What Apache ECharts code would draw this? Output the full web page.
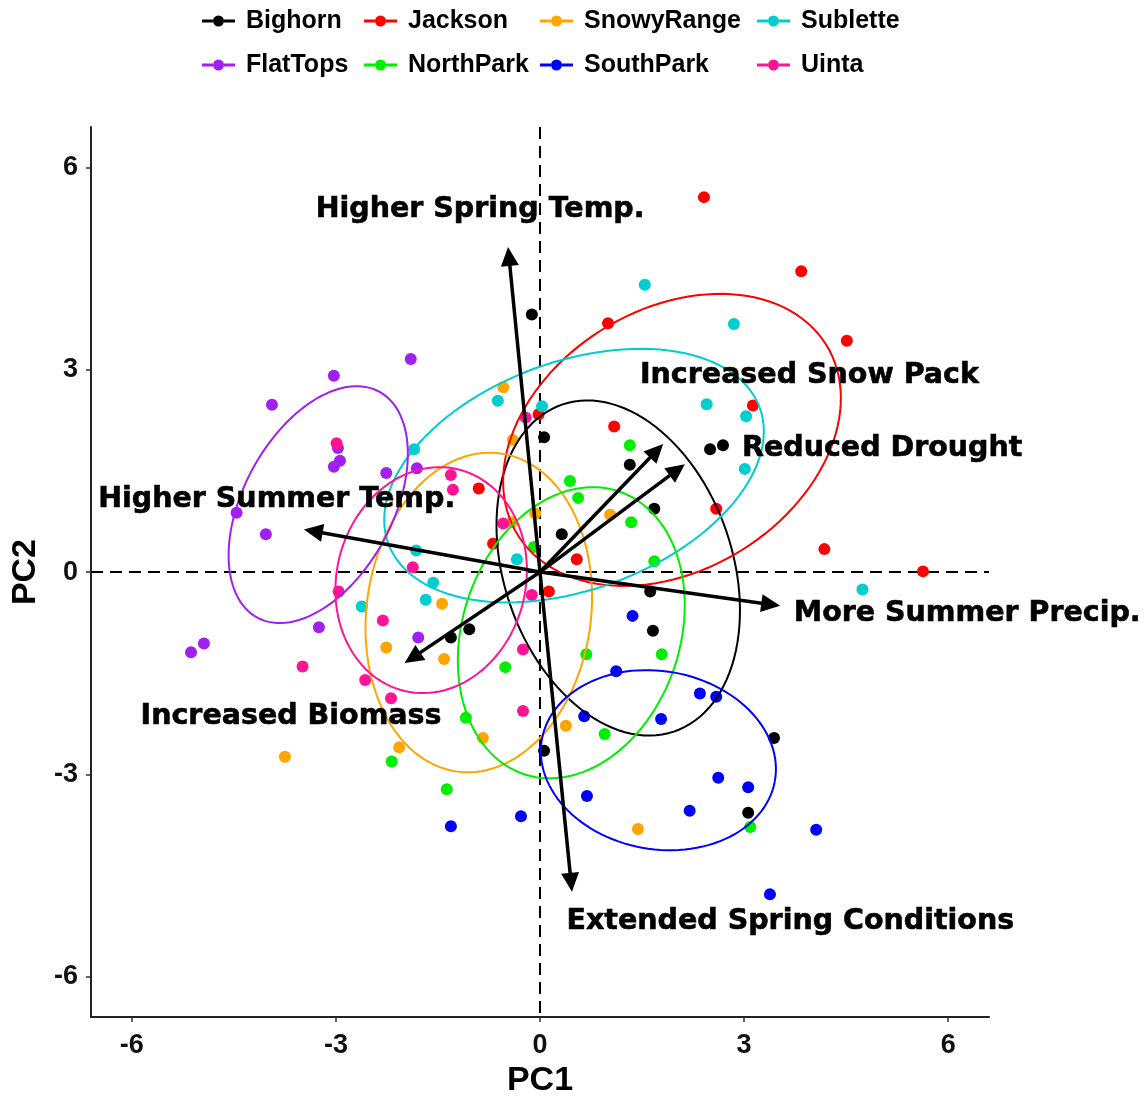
<!DOCTYPE html>
<html><head><meta charset="utf-8">
<script src="https://cdn.jsdelivr.net/npm/echarts@6/dist/echarts.min.js"></script>
<style>html,body{margin:0;padding:0;background:#fff}#c{width:1146px;height:1103px}</style>
</head><body><div id="c"></div>
<script>
// ---- data ----
const groups = ['Bighorn','Jackson','SnowyRange','Sublette','FlatTops','NorthPark','SouthPark','Uinta'];
const groupColors = ['#000000','#FF0000','#FFA500','#00CDCD','#A020F0','#00EE00','#0000FF','#FF1493'];
const tickValues = [-6,-3,0,3,6];

const bighorn = [[-0.12,3.82],[0.06,2.0],[1.32,1.59],[1.68,0.94],[0.32,0.56],[2.5,1.82],[2.69,1.88],[1.62,-0.29],[1.66,-0.87],[-1.04,-0.85],[-1.31,-0.97],[0.06,-2.65],[3.44,-2.46],[3.06,-3.57]];
const jackson = [[2.41,5.56],[3.84,4.46],[4.51,3.43],[3.13,2.47],[1.0,3.69],[-0.02,2.34],[1.09,2.16],[-0.9,1.24],[-0.69,0.42],[0.54,0.19],[0.13,-0.29],[2.59,0.94],[4.18,0.34],[5.63,0.01]];
const snowyRange = [[-0.54,2.74],[-0.4,1.96],[1.03,0.85],[-0.41,0.74],[-0.07,0.87],[-1.44,-0.47],[-2.26,-1.12],[-1.41,-1.29],[0.38,-2.28],[-0.84,-2.46],[-2.07,-2.6],[1.44,-3.81],[-3.75,-2.74]];
const sublette = [[1.54,4.26],[2.85,3.68],[2.45,2.49],[3.03,2.31],[3.01,1.53],[4.74,-0.26],[-0.62,2.54],[0.03,2.46],[-1.85,1.82],[-0.34,0.19],[-1.82,0.32],[-1.57,-0.16],[-1.68,-0.41],[-2.62,-0.51]];
const flatTops = [[-3.03,2.91],[-3.94,2.48],[-2.97,1.84],[-2.94,1.65],[-3.03,1.56],[-2.26,1.47],[-4.46,0.88],[-4.03,0.56],[-1.9,3.16],[-1.81,1.54],[-3.25,-0.82],[-4.94,-1.06],[-5.13,-1.19],[-1.79,-0.97]];
const northPark = [[1.32,1.88],[0.44,1.35],[0.56,1.1],[1.34,0.74],[-0.09,0.37],[1.68,0.16],[0.68,-1.22],[1.79,-1.22],[-0.51,-1.41],[-1.09,-2.16],[0.95,-2.4],[-2.18,-2.81],[-1.37,-3.22],[3.09,-3.78]];
const southPark = [[1.36,-0.65],[1.12,-1.47],[0.65,-2.14],[1.78,-2.18],[0.69,-3.32],[-0.28,-3.62],[-1.31,-3.77],[2.35,-1.8],[2.59,-1.85],[2.62,-3.05],[3.06,-3.19],[2.2,-3.54],[4.06,-3.82],[3.38,-4.78]];
const uinta = [[-2.99,1.91],[-0.21,2.29],[-1.31,1.44],[-1.28,1.22],[-0.54,0.72],[-1.87,0.07],[-0.12,-0.34],[-2.31,-0.72],[-0.25,-1.15],[-2.19,-1.87],[-0.25,-2.06],[-2.96,-0.29],[-3.49,-1.4],[-2.57,-1.6]];

// ellipse parameters (group order)
const ellipseCx = [1.15, 1.94, -0.90, 0.50, -3.26, 0.46, 1.74, -1.60];
const ellipseCy = [0.06, 1.96, -0.60, 1.43, 1.00, -0.90, -2.79, -0.12];
const ellipseA = [2.56, 2.67, 2.38, 2.91, 1.90, 2.21, 1.74, 1.69];
const ellipseB = [1.68, 1.93, 1.65, 1.69, 1.10, 1.60, 1.32, 1.39];
const ellipseAngle = [108.6, 32.2, 82.5, 20.4, 62.1, 72.0, -10.4, 76.7];

// loading arrows (tips) and their labels
const arrowX = [-0.47, 1.81, 2.13, -3.47, 3.53, -1.99, 0.47];
const arrowY = [4.82, 1.90, 1.60, 0.63, -0.50, -1.35, -4.74];
const labelText = ['Higher Spring Temp.','Increased Snow Pack','Reduced Drought','Higher Summer Temp.','More Summer Precip.','Increased Biomass','Extended Spring Conditions'];
const labelX = [-0.88, 3.96, 5.03, -3.87, 6.28, -3.66, 3.68];
const labelY = [5.38, 2.91, 1.83, 1.07, -0.62, -2.14, -5.18];

const axisMin = -6.6, axisMax = 6.6;

// ---- chart ----
const pointSets = [bighorn, jackson, snowyRange, sublette, flatTops, northPark, southPark, uinta];
const chart = echarts.init(document.getElementById('c'));
const series = [];

series.push({
  type: 'custom', name: '_zero', silent: true, z: 1, data: [[0, 0]],
  renderItem: function (p, api) {
    const l = api.coord([axisMin, 0]), r = api.coord([axisMax, 0]);
    const t = api.coord([0, axisMax]), b = api.coord([0, axisMin]);
    const st = { stroke: '#000', lineWidth: 2, lineDash: [12, 7] };
    return { type: 'group', children: [
      { type: 'line', shape: { x1: l[0], y1: l[1], x2: r[0], y2: r[1] }, style: st },
      { type: 'line', shape: { x1: t[0], y1: t[1], x2: b[0], y2: b[1] }, style: st }
    ]};
  }
});

groups.forEach(function (g, i) {
  series.push({
    type: 'scatter', name: g, data: pointSets[i], symbolSize: 12, z: 2,
    itemStyle: { color: groupColors[i], opacity: 1 }
  });
});

const ellipseData = groups.map(function (g, i) {
  return [ellipseCx[i], ellipseCy[i], ellipseA[i], ellipseB[i], ellipseAngle[i], i];
});
series.push({
  type: 'custom', name: '_ellipses', silent: true, z: 3, data: ellipseData,
  renderItem: function (p, api) {
    const cx = api.value(0), cy = api.value(1), a = api.value(2), b = api.value(3);
    const th = api.value(4) * Math.PI / 180, idx = api.value(5);
    const pts = [];
    for (let k = 0; k <= 120; k++) {
      const t = 2 * Math.PI * k / 120;
      const ex = a * Math.cos(t), ey = b * Math.sin(t);
      pts.push(api.coord([cx + ex * Math.cos(th) - ey * Math.sin(th), cy + ex * Math.sin(th) + ey * Math.cos(th)]));
    }
    return { type: 'polyline', shape: { points: pts }, style: { stroke: groupColors[idx], lineWidth: 2, fill: null } };
  }
});

const arrowData = arrowX.map(function (x, i) { return [x, arrowY[i]]; });
series.push({
  type: 'custom', name: '_arrows', silent: true, z: 4, data: arrowData,
  renderItem: function (p, api) {
    const o = api.coord([0, 0]);
    const t = api.coord([api.value(0), api.value(1)]);
    const dx = t[0] - o[0], dy = t[1] - o[1];
    const len = Math.sqrt(dx * dx + dy * dy);
    const ux = dx / len, uy = dy / len;
    const L = 19, W = 9;
    const bx = t[0] - ux * L, by = t[1] - uy * L;
    return { type: 'group', children: [
      { type: 'line', shape: { x1: o[0], y1: o[1], x2: bx + ux * 2, y2: by + uy * 2 }, style: { stroke: '#000', lineWidth: 3.5 } },
      { type: 'polygon', shape: { points: [[t[0], t[1]], [bx - uy * W, by + ux * W], [bx + uy * W, by - ux * W]] }, style: { fill: '#000' } }
    ]};
  }
});

const labelData = labelText.map(function (s, i) { return [labelX[i], labelY[i], i]; });
series.push({
  type: 'custom', name: '_labels', silent: true, z: 5, data: labelData,
  renderItem: function (p, api) {
    const c = api.coord([api.value(0), api.value(1)]);
    return { type: 'text', x: c[0], y: c[1], style: {
      text: labelText[api.value(2)], fill: '#000', align: 'center', verticalAlign: 'middle',
      font: 'bold 28.5px "DejaVu Sans"', stroke: '#000', lineWidth: 0.6
    }};
  }
});

const iconPath = 'path://M0,4 L11,4 L11,7 L0,7 Z M22,4 L33,4 L33,7 L22,7 Z M11,5.5 A5.5,5.5 0 1,0 22,5.5 A5.5,5.5 0 1,0 11,5.5 Z';
const legendCols = [[0, 4], [1, 5], [2, 6], [3, 7]];
const legendLefts = [202, 364, 540, 757];
const legends = legendCols.map(function (col, j) {
  return {
    orient: 'vertical', left: legendLefts[j], top: 8.5, padding: 0, itemGap: 19,
    itemWidth: 33, itemHeight: 11, selectedMode: false,
    data: col.map(function (i) { return { name: groups[i], icon: iconPath }; }),
    textStyle: { fontFamily: 'Liberation Sans', fontWeight: 'bold', fontSize: 25, lineHeight: 25, color: '#000', padding: [0, 0, 0, 6] }
  };
});

const axisCommon = {
  type: 'value', min: axisMin, max: axisMax,
  nameLocation: 'middle',
  nameTextStyle: { fontFamily: 'Liberation Sans', fontWeight: 'bold', fontSize: 34, color: '#000' },
  axisLine: { show: true, onZero: false, lineStyle: { color: '#222', width: 2 } },
  axisTick: { show: true, customValues: tickValues, length: 5, lineStyle: { color: '#333', width: 1.5 } },
  axisLabel: { customValues: tickValues, fontFamily: 'Liberation Sans', fontWeight: 'bold', fontSize: 27, color: '#111' },
  splitLine: { show: false }
};

chart.setOption({
  animation: false,
  backgroundColor: '#fff',
  legend: legends,
  grid: { left: 91, right: 157, top: 127, bottom: 78, containLabel: false },
  xAxis: Object.assign({}, axisCommon, { name: 'PC1', nameGap: 46, axisLabel: Object.assign({}, axisCommon.axisLabel, { margin: 15 }) }),
  yAxis: Object.assign({}, axisCommon, { name: 'PC2', nameGap: 43, axisLabel: Object.assign({}, axisCommon.axisLabel, { margin: 13 }) }),
  series: series
});
</script>
</body></html>
